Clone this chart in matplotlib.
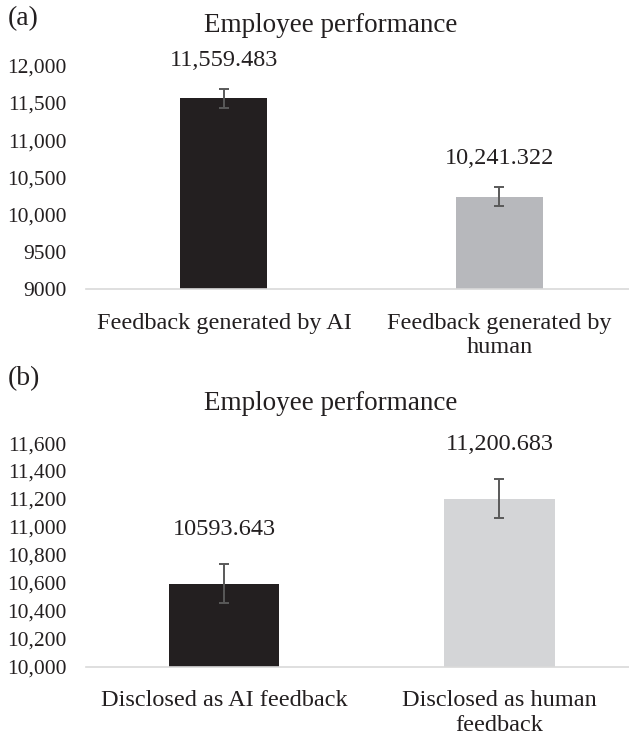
import numpy as np
import matplotlib
matplotlib.use("Agg")
import matplotlib.pyplot as plt
from matplotlib.ticker import FuncFormatter

plt.rcParams['font.family'] = ['Liberation Serif', 'DejaVu Serif']

# panel (a)
cats_a = ["Feedback generated by AI", "Feedback generated by\nhuman"]
vals_a = [11559.483, 10241.322]
errs_a = [127, 127]
labels_a = ["11,559.483", "10,241.322"]
ticks_a = [9000, 9500, 10000, 10500, 11000, 11500, 12000]

# panel (b)
cats_b = ["Disclosed as AI feedback", "Disclosed as human\nfeedback"]
vals_b = [10593.643, 11200.683]
errs_b = [140, 140]
labels_b = ["10593.643", "11,200.683"]
ticks_b = [10000, 10200, 10400, 10600, 10800, 11000, 11200, 11400, 11600]

fig = plt.figure(figsize=(6.29, 7.36), dpi=100)

def fmt(v, pos):
    v = int(round(v))
    if v < 10000:
        return str(v)
    return "{:,}".format(v)

def panel(ax, cats, vals, errs, labels, ticks, colors, width, lab_off):
    x = np.arange(len(cats))
    ax.bar(x, vals, width=width, color=colors, zorder=2)
    ax.errorbar(x, vals, yerr=errs, fmt='none', ecolor='#595959',
                elinewidth=1.4, capsize=3.8, capthick=1.4, zorder=3)
    for xi, v, t in zip(x, vals, labels):
        ax.annotate(t, (xi, v), xytext=(0, lab_off), textcoords='offset points',
                    ha='center', va='center', fontsize=17.5, color='#231f20')
    ax.set_ylim(ticks[0], ticks[-1])
    ax.set_yticks(ticks)
    ax.yaxis.set_major_formatter(FuncFormatter(fmt))
    ax.set_xticks(x)
    ax.set_xticklabels(cats, fontsize=17.5, color='#231f20', linespacing=1.2)
    ax.set_xlim(-0.5, 1.47)
    for s in ['top', 'right', 'left']:
        ax.spines[s].set_visible(False)
    ax.spines['bottom'].set_color('#d9d9d9')
    ax.spines['bottom'].set_linewidth(1.2)
    ax.tick_params(axis='both', length=0, labelsize=15.5, colors='#231f20')
    ax.tick_params(axis='y', pad=14)
    ax.tick_params(axis='x', pad=17, labelsize=17.5)
    ax.set_title("Employee performance", fontsize=19.5, color='#231f20',
                 pad=24, x=0.45)

ax1 = fig.add_axes([0.137, 0.607, 0.863, 0.304])
panel(ax1, cats_a, vals_a, errs_a, labels_a, ticks_a,
      ['#231f20', '#b7b8bc'], 0.316, 27.5)

ax2 = fig.add_axes([0.137, 0.094, 0.863, 0.304])
panel(ax2, cats_b, vals_b, errs_b, labels_b, ticks_b,
      ['#231f20', '#d4d5d7'], 0.4, 39)

fig.text(0.012, 0.975, "(a)", fontsize=20, color='#231f20', va='center')
fig.text(0.012, 0.486, "(b)", fontsize=20, color='#231f20', va='center')

fig.savefig("out.png", dpi=100)
